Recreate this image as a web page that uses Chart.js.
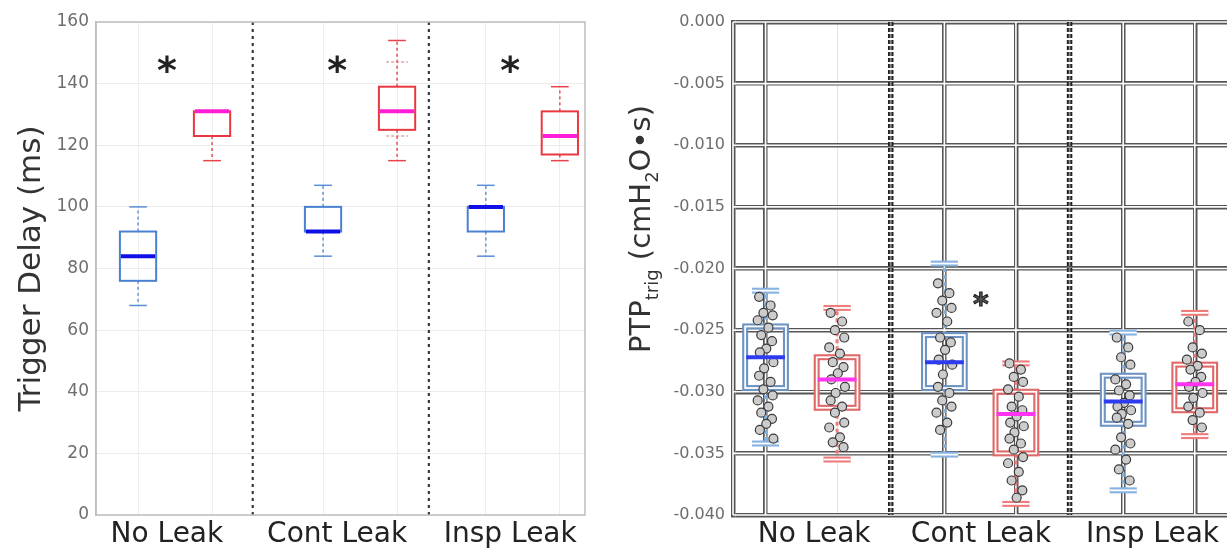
<!DOCTYPE html>
<html>
<head>
<meta charset="utf-8">
<script src="https://cdn.jsdelivr.net/npm/chart.js@4.4.1/dist/chart.umd.min.js"></script>
<style>
  html, body { margin: 0; padding: 0; background: #fff; overflow: hidden; width: 1227px; height: 552px; }
  #left { position: absolute; left: 0; top: 0; width: 600px; height: 552px; }
  #right { position: absolute; left: 600px; top: 0; width: 633px; height: 552px; }
</style>
</head>
<body>
<div id="left"><canvas id="delayChart"></canvas></div>
<div id="right"><canvas id="ptpChart"></canvas></div>
<script>
const categories = ["No Leak", "Cont Leak", "Insp Leak"];

// box order: No Leak (blue, red), Cont Leak (blue, red), Insp Leak (blue, red)
const delayLow = [68, 115, 84, 115, 84, 115];
const delayQ1 = [76, 123, 92, 125, 92, 117];
const delayMed = [84, 131, 92, 131, 100, 123];
const delayQ3 = [92, 131, 100, 139, 100, 131];
const delayHigh = [100, 131, 107, 154, 107, 139];
const delayFaint = [[], [], [], [147, 123], [], []];
const delayStars = ["*", "*", "*"];
const delayStarY = 145;

const ptpLow = [-0.0342, -0.0355, -0.0351, -0.0391, -0.0380, -0.0336];
const ptpQ1 = [-0.0297, -0.0313, -0.0297, -0.0350, -0.0326, -0.0315];
const ptpMed = [-0.0272, -0.0290, -0.0276, -0.0318, -0.0308, -0.0294];
const ptpQ3 = [-0.0247, -0.0272, -0.0254, -0.0300, -0.0287, -0.0278];
const ptpHigh = [-0.0218, -0.0232, -0.0196, -0.0277, -0.0252, -0.0236];
const ptpPoints = [
  [-0.0223, -0.0230, -0.0236, -0.0238, -0.0242, -0.0248, -0.0254, -0.0259, -0.0265, -0.0268, -0.0276, -0.0281,
   -0.0287, -0.0292, -0.0298, -0.0303, -0.0307, -0.0312, -0.0317, -0.0322, -0.0326, -0.0331, -0.0338],
  [-0.0236, -0.0243, -0.0250, -0.0256, -0.0264, -0.0269, -0.0276, -0.0280, -0.0285, -0.0290, -0.0296, -0.0301,
   -0.0307, -0.0312, -0.0317, -0.0325, -0.0329, -0.0337, -0.0341, -0.0345],
  [-0.0212, -0.0220, -0.0226, -0.0232, -0.0236, -0.0243, -0.0256, -0.0260, -0.0266, -0.0274, -0.0278, -0.0286,
   -0.0296, -0.0301, -0.0307, -0.0312, -0.0317, -0.0325, -0.0331],
  [-0.0277, -0.0282, -0.0288, -0.0292, -0.0298, -0.0304, -0.0312, -0.0315, -0.0320, -0.0325, -0.0328, -0.0333,
   -0.0338, -0.0342, -0.0347, -0.0353, -0.0358, -0.0365, -0.0372, -0.0380, -0.0386],
  [-0.0256, -0.0264, -0.0272, -0.0278, -0.0290, -0.0294, -0.0299, -0.0303, -0.0309, -0.0312, -0.0315, -0.0318,
   -0.0321, -0.0326, -0.0337, -0.0342, -0.0347, -0.0355, -0.0363, -0.0372],
  [-0.0243, -0.0250, -0.0264, -0.0269, -0.0274, -0.0279, -0.0282, -0.0288, -0.0292, -0.0296, -0.0301, -0.0305,
   -0.0312, -0.0317, -0.0323, -0.0329]
];
const ptpStars = ["", "*", ""];
const ptpStarY = -0.0224;

// where the boxes, dotted separators and group labels sit on the x axis
const delayBoxX = [1, 2, 3.5, 4.5, 5.7, 6.7];
const delaySepX = [2.55, 4.93];
const delayLabelX = [1.39, 3.69, 6.03];
const ptpBoxX = [1, 2, 3.5, 4.5, 6, 7];
const ptpSepX = [2.75, 5.25];
const ptpLabelX = [1.68, 4.01, 6.41];

const jitter = [-0.09, 0.07, -0.03, 0.1, -0.11, 0.04, -0.06, 0.09, 0.01, -0.08, 0.11, -0.02];

Chart.defaults.font.family = "'DejaVu Sans', Verdana, sans-serif";

function line(ctx, x1, y1, x2, y2) {
  ctx.beginPath();
  ctx.moveTo(x1, y1);
  ctx.lineTo(x2, y2);
  ctx.stroke();
}

// strokes a path twice so it looks like an outlined (hollow) line
function hollow(ctx, color, width, draw) {
  ctx.strokeStyle = color;
  ctx.lineWidth = width;
  draw();
  ctx.strokeStyle = "#fff";
  ctx.lineWidth = width * 0.3;
  draw();
}

const boxPlugin = {
  id: "boxes",
  beforeDatasetsDraw(chart, args, o) {
    const { ctx, chartArea: a } = chart;
    const x = chart.scales.x, y = chart.scales.y;
    ctx.save();
    if (o.hollow) {
      ctx.strokeStyle = "#fff";
      ctx.lineWidth = 1.6;
      y.ticks.forEach(t => {
        const p = y.getPixelForValue(t.value);
        line(ctx, a.left, p, a.right, p);
      });
      x.ticks.forEach((t, i) => {
        if (i === 1) return;
        const p = x.getPixelForValue(t.value);
        line(ctx, p, a.top, p, a.bottom);
      });
      line(ctx, a.left, a.top, a.left, a.bottom);
    }

    o.sepX.forEach(v => {
      const p = x.getPixelForValue(v);
      if (o.hollow) {
        ctx.setLineDash([4, 2]);
        ctx.strokeStyle = "#222";
        ctx.lineWidth = 5.5;
        line(ctx, p, a.top, p, a.bottom);
        ctx.strokeStyle = "#8a8a8a";
        ctx.lineWidth = 1.8;
        line(ctx, p, a.top, p, a.bottom);
      } else {
        ctx.setLineDash([3, 4]);
        ctx.strokeStyle = "#3a3a3a";
        ctx.lineWidth = 2.2;
        line(ctx, p, a.top, p, a.bottom);
      }
    });
    ctx.setLineDash([]);

    o.pos.forEach((v, i) => {
      const c = o.colors[i % 2];
      const cx = x.getPixelForValue(v);
      const hw = x.getPixelForValue(v + o.boxHalf) - cx;
      const cw = x.getPixelForValue(v + o.capHalf) - cx;
      const pLow = y.getPixelForValue(o.low[i]);
      const pQ1 = y.getPixelForValue(o.q1[i]);
      const pQ3 = y.getPixelForValue(o.q3[i]);
      const pHigh = y.getPixelForValue(o.high[i]);

      ctx.strokeStyle = c.whisker;
      ctx.lineWidth = o.hollow ? 3 : 1.4;
      ctx.setLineDash(o.hollow ? [4, 3] : [3, 3]);
      line(ctx, cx, pQ3, cx, pHigh);
      line(ctx, cx, pQ1, cx, pLow);
      ctx.setLineDash([]);

      if (o.hollow) {
        [pLow, pHigh].forEach(p => hollow(ctx, c.whisker, 6, () => line(ctx, cx - cw, p, cx + cw, p)));
        hollow(ctx, c.box, 6, () => ctx.strokeRect(cx - hw, pQ3, 2 * hw, pQ1 - pQ3));
      } else {
        ctx.strokeStyle = c.whisker;
        ctx.lineWidth = 1.5;
        [pLow, pHigh].forEach(p => line(ctx, cx - cw, p, cx + cw, p));
        ctx.strokeStyle = c.box;
        ctx.lineWidth = 2;
        ctx.strokeRect(cx - hw, pQ3, 2 * hw, pQ1 - pQ3);
      }
    });
    ctx.restore();
  },
  afterDatasetsDraw(chart, args, o) {
    const { ctx, chartArea: a } = chart;
    const x = chart.scales.x, y = chart.scales.y;
    ctx.save();
    o.pos.forEach((v, i) => {
      const c = o.colors[i % 2];
      const cx = x.getPixelForValue(v);
      const hw = x.getPixelForValue(v + o.boxHalf) - cx;
      const pm = y.getPixelForValue(o.med[i]);
      ctx.strokeStyle = c.median;
      ctx.lineWidth = 4;
      line(ctx, cx - hw + 1, pm, cx + hw - 1, pm);
      (o.faint[i] || []).forEach(fv => {
        const p = y.getPixelForValue(fv);
        ctx.strokeStyle = "rgba(200,110,110,0.6)";
        ctx.lineWidth = 1.5;
        ctx.setLineDash([3, 2]);
        line(ctx, cx - hw * 0.6, p, cx + hw * 0.6, p);
        ctx.setLineDash([]);
      });
    });

    ctx.textAlign = "center";
    ctx.textBaseline = "middle";
    o.stars.forEach((s, i) => {
      if (!s) return;
      const px = x.getPixelForValue(o.starX[i]);
      const py = y.getPixelForValue(o.starY);
      if (o.hollow) {
        ctx.font = "bold 30px 'DejaVu Sans'";
        ctx.fillStyle = "#555";
        ctx.strokeStyle = "#222";
        ctx.lineWidth = 1;
        ctx.fillText(s, px, py + 8);
        ctx.strokeText(s, px, py + 8);
      } else {
        ctx.font = "bold 38px 'DejaVu Sans'";
        ctx.fillStyle = "#222";
        ctx.fillText(s, px, py + 5);
      }
    });

    if (!o.hollow) {
      ctx.strokeStyle = "#bdbdbd";
      ctx.lineWidth = 1.5;
      ctx.strokeRect(a.left, a.top, a.right - a.left, a.bottom - a.top);
    }
    ctx.restore();
  }
};

// y title with subscripts for the right panel
const ptpTitlePlugin = {
  id: "ptpTitle",
  afterDraw(chart) {
    const ctx = chart.ctx;
    const size = 29;
    const parts = [
      { t: "PTP", sub: false }, { t: "trig", sub: true }, { t: " (cmH", sub: false },
      { t: "2", sub: true }, { t: "O\u2022s)", sub: false }
    ];
    const fontFor = p => (p.sub ? Math.round(size * 0.62) : size) + "px 'DejaVu Sans'";
    ctx.save();
    let total = 0;
    parts.forEach(p => { ctx.font = fontFor(p); total += ctx.measureText(p.t).width; });
    ctx.translate(50, 229);
    ctx.rotate(-Math.PI / 2);
    ctx.fillStyle = "#333";
    ctx.textBaseline = "alphabetic";
    ctx.textAlign = "left";
    let cur = -total / 2;
    parts.forEach(p => {
      ctx.font = fontFor(p);
      ctx.fillText(p.t, cur, p.sub ? size * 0.28 : 0);
      cur += ctx.measureText(p.t).width;
    });
    ctx.restore();
  }
};

function xScales(min, max, boxX, labelX, gridColor, gridWidth) {
  return {
    x: {
      type: "linear", min, max,
      afterBuildTicks: s => { s.ticks = boxX.map(v => ({ value: v })); },
      afterFit: s => { s.height = 0; },
      ticks: { display: false },
      grid: { color: gridColor, lineWidth: gridWidth, drawTicks: false },
      border: { display: false }
    },
    x2: {
      type: "linear", position: "bottom", min, max,
      afterBuildTicks: s => { s.ticks = labelX.map(v => ({ value: v })); },
      afterFit: s => { s.height = 37; },
      ticks: {
        callback: (v, i) => categories[i],
        autoSkip: false, maxRotation: 0, padding: 3,
        color: "#222", font: { size: 28 }
      },
      grid: { display: false, drawTicks: false },
      border: { display: false }
    }
  };
}

new Chart(document.getElementById("delayChart"), {
  type: "scatter",
  data: { datasets: [] },
  options: {
    responsive: true,
    maintainAspectRatio: false,
    animation: false,
    layout: { padding: { top: 22, right: 15, left: 0, bottom: 0 } },
    scales: {
      ...xScales(0.432, 7.04, delayBoxX, delayLabelX, "#eeeeee", 1),
      y: {
        min: 0, max: 160,
        afterFit: s => { s.width = 96; },
        ticks: { stepSize: 20, padding: 7, color: "#6e6e6e", font: { size: 17 } },
        grid: { color: "#ececec", drawTicks: false },
        border: { color: "#bdbdbd", width: 1.5 },
        title: {
          display: true, text: "Trigger Delay (ms)", color: "#333",
          font: { size: 31 }, padding: { top: 13, bottom: 0 }
        }
      }
    },
    plugins: {
      legend: { display: false },
      tooltip: { enabled: false },
      boxes: {
        hollow: false,
        pos: delayBoxX, sepX: delaySepX,
        low: delayLow, q1: delayQ1, med: delayMed, q3: delayQ3, high: delayHigh,
        faint: delayFaint,
        stars: delayStars, starX: delayLabelX, starY: delayStarY,
        boxHalf: 0.245, capHalf: 0.12,
        colors: [
          { box: "#4a80d2", whisker: "#5a8ed6", median: "#1010e6" },
          { box: "#ea3842", whisker: "#e8434a", median: "#ff1ed6" }
        ]
      }
    }
  },
  plugins: [boxPlugin]
});

new Chart(document.getElementById("ptpChart"), {
  type: "scatter",
  data: {
    datasets: ptpPoints.map((vals, i) => ({
      data: vals.map((v, k) => ({ x: ptpBoxX[i] + jitter[k % jitter.length], y: v })),
      pointRadius: 4.5,
      backgroundColor: "#cccccc",
      borderColor: "#3a3a3a",
      borderWidth: 1.2
    }))
  },
  options: {
    responsive: true,
    maintainAspectRatio: false,
    animation: false,
    layout: { padding: { top: 22, right: 0, left: 0, bottom: 0 } },
    scales: {
      ...xScales(0.545, 7.455, ptpBoxX, ptpLabelX,
        c => (c.index === 1 ? "#e4e4e4" : "#555555"),
        c => (c.index === 1 ? 1 : 4.5)),
      y: {
        min: -0.04, max: 0,
        afterFit: s => { s.width = 133; },
        ticks: {
          stepSize: 0.005, padding: 8, color: "#6e6e6e", font: { size: 16 },
          callback: v => v.toFixed(3)
        },
        grid: { color: "#555555", lineWidth: 4.5, drawTicks: false },
        border: { color: "#555555", width: 4.5 }
      }
    },
    plugins: {
      legend: { display: false },
      tooltip: { enabled: false },
      boxes: {
        hollow: true,
        pos: ptpBoxX, sepX: ptpSepX,
        low: ptpLow, q1: ptpQ1, med: ptpMed, q3: ptpQ3, high: ptpHigh,
        faint: [],
        stars: ptpStars, starX: ptpLabelX, starY: ptpStarY,
        boxHalf: 0.285, capHalf: 0.19,
        colors: [
          { box: "#6e94c4", whisker: "#86b2e0", median: "#2f3bf0" },
          { box: "#e06868", whisker: "#ee7c7c", median: "#ff33f0" }
        ]
      }
    }
  },
  plugins: [boxPlugin, ptpTitlePlugin]
});
</script>
</body>
</html>
